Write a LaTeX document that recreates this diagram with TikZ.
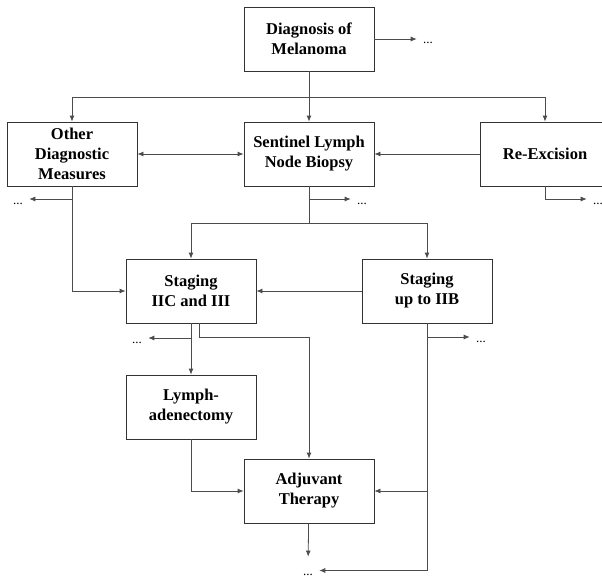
\documentclass[tikz,border=0pt]{standalone}
\usepackage{fontspec}
\setmainfont{Liberation Serif}[BoldFont={Liberation Serif Bold}]
\usetikzlibrary{arrows.meta}
\begin{document}
\begin{tikzpicture}[x=1pt, y=-1pt, >={Latex[length=6pt,width=5pt]}, line width=.8pt,
  box/.style={draw=black!80, minimum width=130pt, minimum height=64pt, inner sep=2pt, align=center, font=\bfseries\fontsize{16.5}{20}\selectfont},
  dots/.style={inner xsep=6pt, inner ysep=0pt, text height=10pt, text depth=0pt, font=\fontsize{13}{15}\selectfont}]
\useasboundingbox (0,0) rectangle (602,578);
\node[box](diag) at (309,39) {Diagnosis of\\Melanoma};
\node[box](other) at (72,154) {Other\\Diagnostic\\Measures};
\node[box](sln) at (309,154) {Sentinel Lymph\\Node Biopsy};
\node[box](reex) at (545,154) {Re-Excision};
\node[box](s3) at (191,291) {Staging\\IIC and III};
\node[box](s2) at (427,291) {Staging\\up to IIB};
\node[box](lymph) at (191,407) {Lymph-\\adenectomy};
\node[box](adj) at (309,491) {Adjuvant\\Therapy};
\node[dots](d1) at (428,39) {...};
\node[dots](d2) at (18,199) {...};
\node[dots](d3) at (362,199) {...};
\node[dots](d4) at (598,199) {...};
\node[dots](d5) at (137,338) {...};
\node[dots](d6) at (481,337) {...};
\node[dots](d7) at (308,570.5) {...};
\coordinate (top) at (309,97);
\coordinate (mid) at (309,223);

\begin{scope}[black!70]
\draw[->](diag)--(d1);
\draw[->](diag)--(sln);
\draw[->](top)-|(other);
\draw[->](top)-|(reex);
\draw[<->](other)--(sln);
\draw[->](reex)--(sln);
\draw[->](other)|-(s3);
\draw[->](other.south|-d2)--(d2);
\draw(sln)--(mid);
\draw[->](mid)-|(s3);
\draw[->](mid)-|(s2);
\draw[->](sln.south|-d3)--(d3);
\draw[->](reex)|-(d4);
\draw[->](s2)--(s3);
\draw[->](s3)--(lymph);
\draw[->](s3.south|-d5)--(d5);
\draw[->]([xshift=8pt]s3.south)|-(adj.north|-d6)--(adj);
\draw[->](s2)|-(adj);
\draw[->](s2.south)|-(d7);
\draw[->](s2.south|-d6)--(d6);
\draw[->](lymph)|-(adj);
\draw[->,shorten >=8.5pt](adj)--(d7);
\end{scope}

\end{tikzpicture}
\end{document}
